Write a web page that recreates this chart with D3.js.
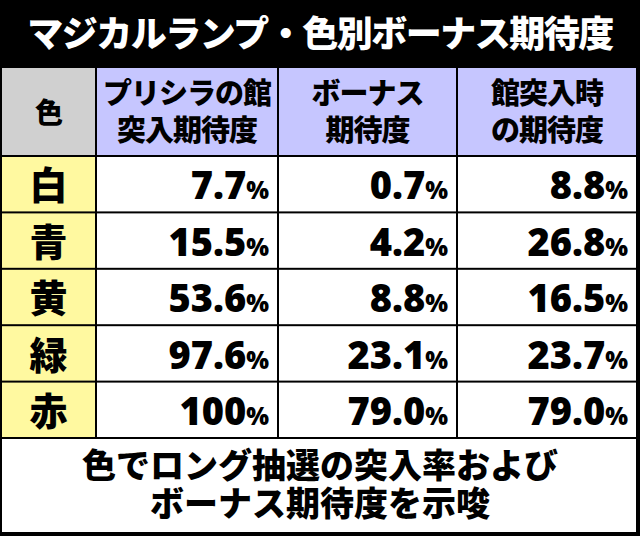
<!DOCTYPE html><html><head><meta charset="utf-8"><script src="https://cdn.jsdelivr.net/npm/d3@7"></script>
<style>body{margin:0;background:#fff}</style></head><body><script>
const title="マジカルランプ・色別ボーナス期待度";
const headers=[["色"],["プリシラの館","突入期待度"],["ボーナス","期待度"],["館突入時","の期待度"]];
const colors=["白","青","黄","緑","赤"];
const entry=["7.7","15.5","53.6","97.6","100"];
const bonus=["0.7","4.2","8.8","23.1","79.0"];
const inBonus=["8.8","26.8","16.5","23.7","79.0"];
const note=["色でロング抽選の突入率および","ボーナス期待度を示唆"];
const F="'Noto Sans CJK JP',sans-serif";
const svg=d3.select("body").append("svg").attr("width",640).attr("height",536);
svg.append("rect").attr("width",640).attr("height",536).attr("fill","#000");
svg.append("text").attr("x",320).attr("y",47).attr("text-anchor","middle").attr("fill","#fff")
 .attr("font-family",F).attr("font-weight",900).attr("font-size",36).attr("letter-spacing",-1.5).text(title);
const xs=[2,97,279,458,638];
const ys=d3.scaleLinear().domain([0,5]).range([157,439]);
const hTop=68;
function cell(x0,x1,y0,y1,fill){svg.append("rect").attr("x",x0).attr("y",y0).attr("width",x1-x0-2).attr("height",y1-y0-2).attr("fill",fill);}
headers.forEach((h,i)=>{cell(xs[i],xs[i+1],hTop,ys(0),i==0?"#d0d0d0":"#c6c6ff");
 const cx=(xs[i]+xs[i+1]-2)/2;
 h.forEach((l,j)=>svg.append("text").attr("x",cx).attr("y",h.length==1?123:(104+j*37)).attr("text-anchor","middle")
  .attr("font-family",F).attr("font-weight",900).attr("font-size",h.length==1?28:29).attr("letter-spacing",-1).attr("fill","#000").text(l));});
const cols=[entry,bonus,inBonus];
colors.forEach((c,r)=>{const y0=ys(r),y1=ys(r+1);
 cell(xs[0],xs[1],y0,y1,"#fff9a0");
 svg.append("text").attr("x",(xs[0]+xs[1]-2)/2).attr("y",y1-14).attr("text-anchor","middle").attr("font-family",F).attr("font-weight",900).attr("font-size",38).text(c);
 cols.forEach((arr,k)=>{cell(xs[k+1],xs[k+2],y0,y1,"#fff");
  const t=svg.append("text").attr("x",xs[k+2]-10).attr("y",y1-14).attr("text-anchor","end").attr("font-family","'Open Sans',sans-serif").attr("font-weight",800);
  t.append("tspan").attr("font-size",38).text(arr[r]);
  t.append("tspan").attr("font-size",24).text("%");});
});
cell(xs[0],xs[4],ys(5),534,"#fff");
note.forEach((l,j)=>svg.append("text").attr("x",320).attr("y",478+j*38).attr("text-anchor","middle").attr("font-family",F).attr("font-weight",900).attr("font-size",34).text(l));
</script></body></html>
